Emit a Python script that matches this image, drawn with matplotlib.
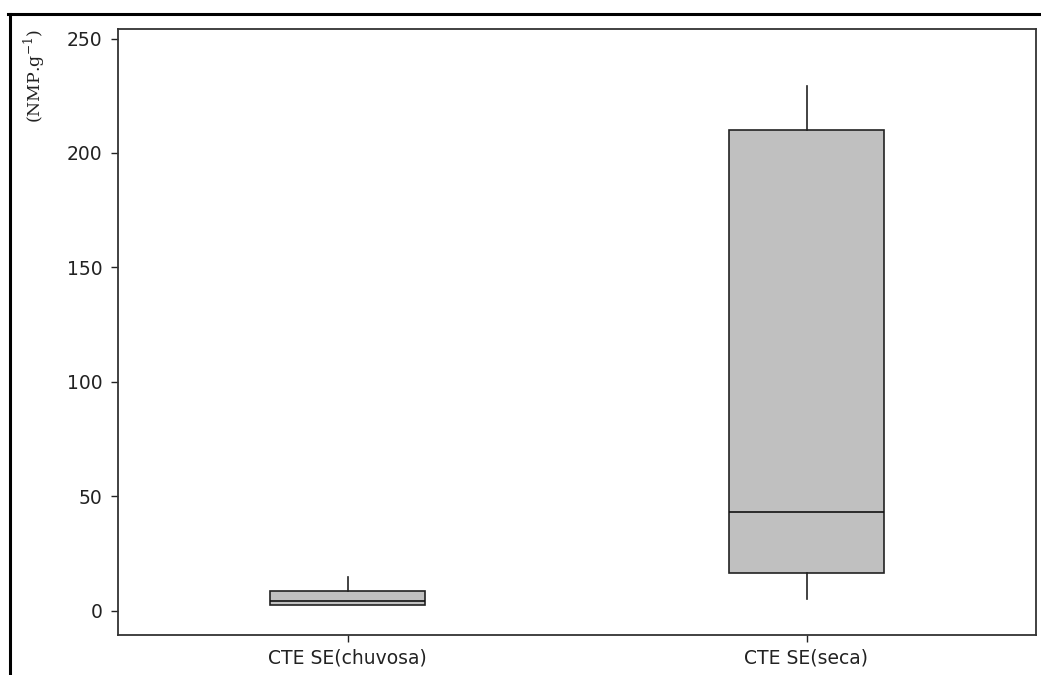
import numpy as np
import matplotlib
matplotlib.use("Agg")
import matplotlib.pyplot as plt
from matplotlib.lines import Line2D

# box statistics
groups = ["CTE SE(chuvosa)", "CTE SE(seca)"]
whisk_low = [2.4, 5.0]
q1 = [2.4, 16.3]
median = [4.3, 42.9]
q3 = [8.5, 209.9]
whisk_high = [14.8, 229.4]
yticks = [0, 50, 100, 150, 200, 250]

stats = []
for i, name in enumerate(groups):
    stats.append(dict(label=name, whislo=whisk_low[i], q1=q1[i], med=median[i],
                      q3=q3[i], whishi=whisk_high[i], fliers=[]))

fig = plt.figure(figsize=(10.41, 6.75), dpi=100)
ax = fig.add_axes([118 / 1041, 1 - 635 / 675, (1036 - 118) / 1041, (635 - 28.5) / 675])

edge = "#222222"
ax.bxp(stats, positions=[1, 2], widths=0.338, patch_artist=True, showcaps=False,
       boxprops=dict(facecolor="#c0c0c0", edgecolor=edge, linewidth=1.2),
       medianprops=dict(color="#111111", linewidth=1.2),
       whiskerprops=dict(color=edge, linewidth=1.2))

ax.set_xlim(0.5, 2.5)
ax.set_ylim(-10.7, 254.4)
ax.set_yticks(yticks)
ax.tick_params(axis="both", direction="out", length=5, width=1, labelsize=13.5,
               colors="#222222")
ax.tick_params(axis="y", pad=6)
ax.tick_params(axis="x", pad=5)
for s in ax.spines.values():
    s.set_linewidth(1.3)
    s.set_color("#333333")

fig.text(34 / 1041, 1 - 29 / 675, r"(NMP.g$^{\mathregular{-1}}$)", rotation=90,
         ha="center", va="top", fontsize=12.5, family="DejaVu Serif",
         color="#222222")

# outer frame lines (top and left only)
fig.add_artist(Line2D([8 / 1041, 1], [1 - 14 / 675, 1 - 14 / 675], color="black", lw=2.2,
                      transform=fig.transFigure))
fig.add_artist(Line2D([10 / 1041, 10 / 1041], [0, 1 - 14 / 675], color="black", lw=2.2,
                      transform=fig.transFigure))

fig.savefig("out.png", dpi=100)
